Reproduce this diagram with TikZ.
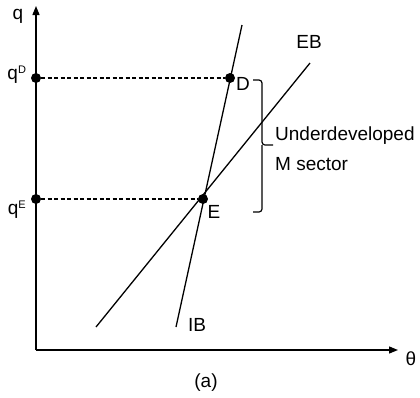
\documentclass[tikz,border=0pt]{standalone}
\usepackage{fontspec}
\setmainfont{Liberation Sans}
\usetikzlibrary{arrows.meta}
\begin{document}
\begin{tikzpicture}[x=1pt,y=-1pt,
  ax/.style={line width=1.3pt,-{Triangle[length=9pt,width=7pt]}},
  ln/.style={line width=1.3pt},
  dsh/.style={line width=1.1pt,dash pattern=on 4pt off 2.5pt},
  dot/.style={circle,fill=black,inner sep=0pt,minimum size=10pt},
  lab/.style={font=\fontsize{19}{23}\selectfont,inner sep=0pt}]
\useasboundingbox (0,0) rectangle (420,397);
\coordinate (O) at (36,350);
\coordinate (ytop) at (36,6);
\coordinate (xend) at (398,350);
\draw[ax] (O) -- (ytop);
\draw[ax] (O) -- (xend);
\node[lab] (q) at (18,16) {q};
\node[lab] (th) at (411,359) {θ};
\node[lab] (a) at (206,383) {(a)};
% lines
\coordinate (IB1) at (176,327);
\coordinate (IB2) at (242,25);
\coordinate (EB1) at (96,327);
\coordinate (EB2) at (310,63);
\draw[ln] (IB1) -- (IB2);
\draw[ln] (EB1) -- (EB2);
\node[lab] (IBl) at (197,325) {IB};
\node[lab] (EBl) at (309,42) {EB};
% points
\node[dot] (D) at (230,78) {};
\node[dot] (E) at (203,199) {};
\node[dot] (qD) at (36,78) {};
\node[dot] (qE) at (36,199) {};
\draw[dsh] (qD) -- (D);
\draw[dsh] (qE) -- (E);
\node[lab] (Dl) at (243,84) {D};
\node[lab] (El) at (214,212) {E};
\node[lab] (qDl) at (17,75) {q\textsuperscript{\fontsize{11}{12}\selectfont D}};
\node[lab] (qEl) at (17,210) {q\textsuperscript{\fontsize{11}{12}\selectfont E}};
% bracket
\draw[line width=1.2pt,rounded corners=3pt] (253,80) -- (262,80) -- (262,145) -- (273,145);
\draw[line width=1.2pt,rounded corners=3pt] (253,212) -- (262,212) -- (262,145);
\node[lab,anchor=west] (U) at (275,136) {Underdeveloped};
\node[lab,anchor=west] (M) at (275,164) {M sector};
\end{tikzpicture}
\end{document}
